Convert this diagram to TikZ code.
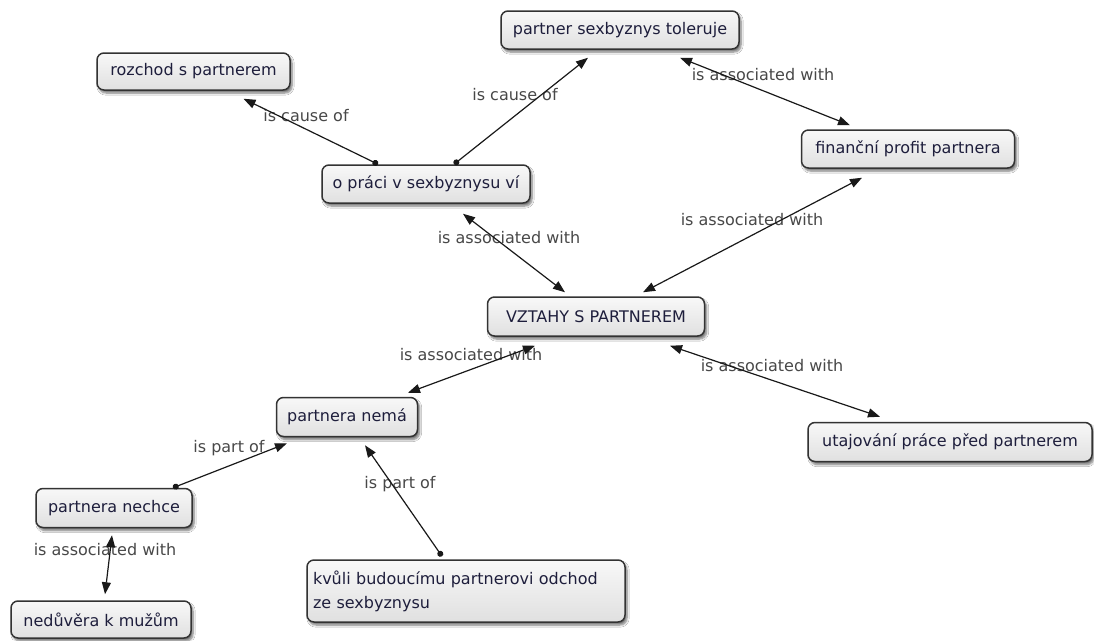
\documentclass[tikz,border=0pt]{standalone}
\usepackage{fontspec}
\setmainfont{DejaVu Sans}
\usetikzlibrary{arrows.meta,shadows.blur}
\definecolor{boxline}{HTML}{333333}
\definecolor{boxtop}{HTML}{F8F8F8}
\definecolor{boxbot}{HTML}{E0E0E0}
\definecolor{concepttext}{HTML}{1E1E3C}
\definecolor{lbltext}{HTML}{484848}
\begin{document}
\begin{tikzpicture}[x=1pt,y=-1pt,
  concept/.style={draw=boxline, line width=1.5pt, rounded corners=7pt,
    top color=boxtop, bottom color=boxbot, text=concepttext,
    font=\fontsize{16}{24}\selectfont, inner sep=0pt,
    blur shadow={shadow xshift=2pt, shadow yshift=-3pt, shadow blur steps=6, shadow opacity=55}},
  lbl/.style={text=lbltext, font=\fontsize{16}{19}\selectfont, inner sep=0pt},
  tipA/.tip={Triangle[length=12pt,width=9pt]},
  link/.style={line width=1.2pt, draw=black!90},
  linkdot/.style={link, {Circle[length=6pt]}-tipA},
  both/.style={link, tipA-tipA}
]
\useasboundingbox[fill=white] (0,0) rectangle (1094,640);

% concepts
\node[concept, minimum width=238pt, minimum height=38pt] (tol) at (620,30) {partner sexbyznys toleruje};
\node[concept, minimum width=193pt, minimum height=37pt] (roz) at (193.5,71.5) {rozchod s partnerem};
\node[concept, minimum width=208pt, minimum height=38pt] (opr) at (426,184) {o práci v sexbyznysu ví};
\node[concept, minimum width=213pt, minimum height=38pt] (fin) at (908,149) {finanční profit partnera};
\node[concept, minimum width=217pt, minimum height=39pt] (vzt) at (596,316.5) {VZTAHY S PARTNEREM};
\node[concept, minimum width=141pt, minimum height=39pt] (nem) at (347,417) {partnera nemá};
\node[concept, minimum width=284pt, minimum height=39pt] (uta) at (950,442) {utajování práce před partnerem};
\node[concept, minimum width=156pt, minimum height=39pt] (nec) at (114,508) {partnera nechce};
\node[concept, minimum width=180pt, minimum height=37pt] (ned) at (101,619.5) {nedůvěra k mužům};
\node[concept, text width=306pt, inner xsep=6pt, align=left, minimum height=62pt] (kvu) at (466,591) {kvůli budoucímu partnerovi odchod\\ze sexbyznysu};

% link labels
\node[lbl] (l1) at (306,116) {is cause of};
\node[lbl] (l2) at (515,95) {is cause of};
\node[lbl] (l3) at (763,75) {is associated with};
\node[lbl] (l4) at (509,238) {is associated with};
\node[lbl] (l5) at (752,220) {is associated with};
\node[lbl] (l6) at (471,355) {is associated with};
\node[lbl] (l7) at (772,366) {is associated with};
\node[lbl] (l8) at (229,448) {is part of};
\node[lbl] (l9) at (400,484) {is part of};
\node[lbl] (l10) at (105,550) {is associated with};

% connectors
\draw[linkdot] ([xshift=-48pt]opr.north) -- ([xshift=50pt,yshift=-8pt]roz.south);
\draw[linkdot] ([xshift=28pt]opr.north) -- ([xshift=-32pt,yshift=-8pt]tol.south);
\draw[both] ([xshift=60pt,yshift=-8pt]tol.south) -- ([xshift=-58pt,yshift=4pt]fin.north);
\draw[both] ([xshift=37pt,yshift=-10pt]opr.south) -- ([xshift=-31pt,yshift=4pt]vzt.north);
\draw[both] ([xshift=-46pt,yshift=-9pt]fin.south) -- ([xshift=47pt,yshift=4pt]vzt.north);
\draw[both] ([xshift=-61pt,yshift=-9pt]vzt.south) -- ([xshift=61pt,yshift=4pt]nem.north);
\draw[both] ([xshift=74pt,yshift=-9pt]vzt.south) -- ([xshift=-70pt,yshift=5pt]uta.north);
\draw[linkdot] ([xshift=59pt]nec.north) -- ([xshift=-60pt,yshift=-6pt]nem.south);
\draw[linkdot] ([xshift=-24pt,yshift=3pt]kvu.north) -- ([xshift=18pt,yshift=-8pt]nem.south);
\draw[both] ([xshift=-2pt,yshift=-7pt]nec.south) -- ([xshift=4pt,yshift=6pt]ned.north);
\end{tikzpicture}
\end{document}
